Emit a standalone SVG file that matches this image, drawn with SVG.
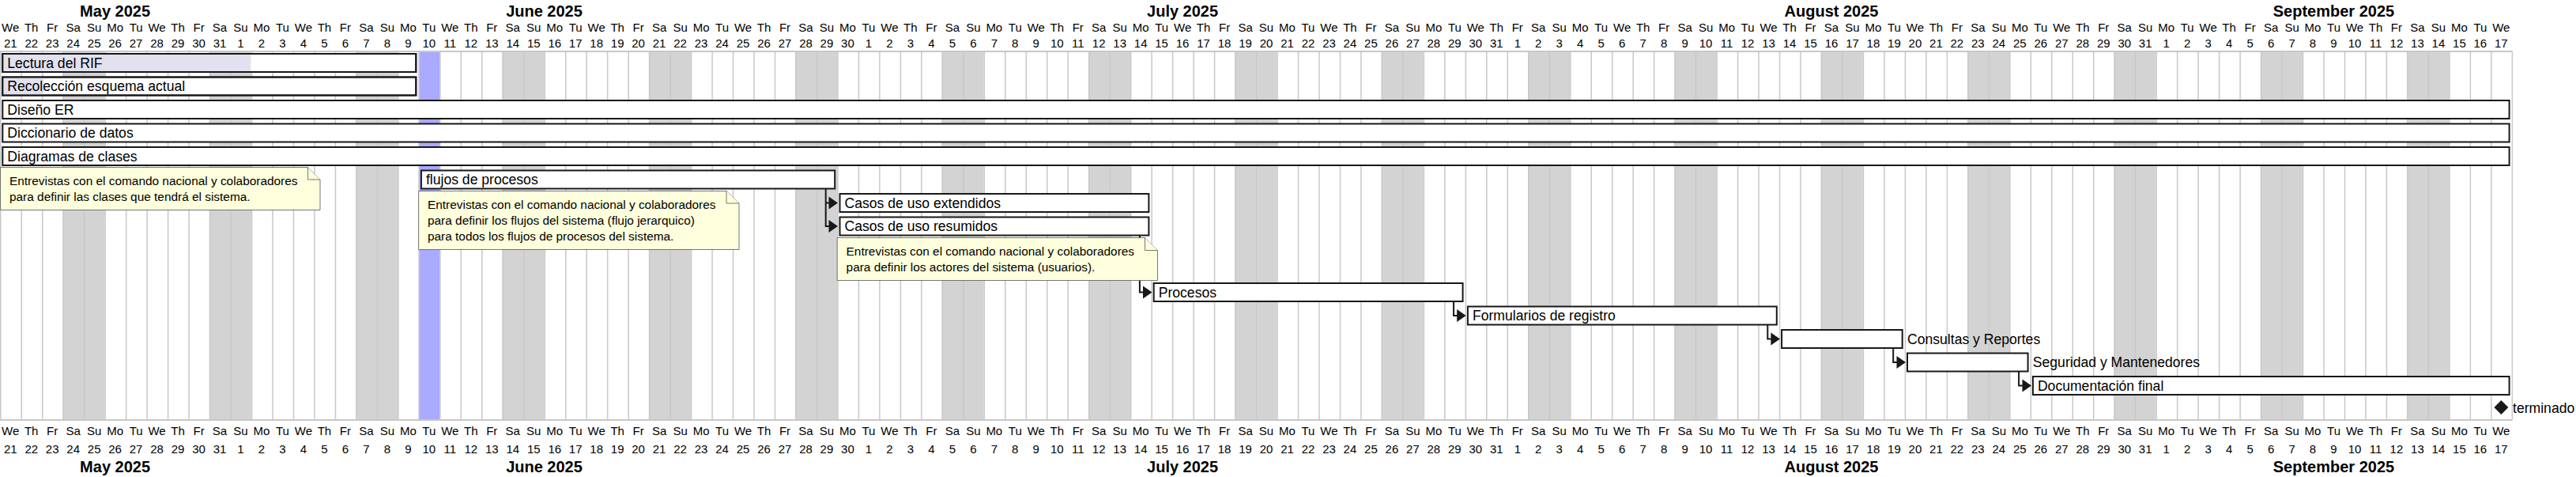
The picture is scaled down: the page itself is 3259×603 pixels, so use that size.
<svg xmlns="http://www.w3.org/2000/svg" width="3259" height="603" viewBox="0 0 3259 603">
<style>
text{font-family:"Liberation Sans",Arial,sans-serif;fill:#000}
.m{font-size:20px;font-weight:bold;text-anchor:middle}
.d{font-size:15px;text-anchor:middle}
.bar{fill:#fff;stroke:#181818;stroke-width:2}
.done{fill:#E1E1F0}
.lbl{font-size:17.6px}
.note{fill:#FEFFDD;stroke:#555;stroke-width:0.8}
.nt{font-size:15.4px}
.link{fill:none;stroke:#181818;stroke-width:2}
.ah{fill:#181818}
</style>
<rect width="3259" height="603" fill="#fff"/>
<g id="grid">
<path fill="#D3D3D3" d="M79.44 65h52.96v466h-52.96z m185.36 0h52.96v466h-52.96z m185.36 0h52.96v466h-52.96z m185.36 0h52.96v466h-52.96z m185.36 0h52.96v466h-52.96z m185.36 0h52.96v466h-52.96z m185.36 0h52.96v466h-52.96z m185.36 0h52.96v466h-52.96z m185.36 0h52.96v466h-52.96z m185.36 0h52.96v466h-52.96z m185.36 0h52.96v466h-52.96z m185.36 0h52.96v466h-52.96z m185.36 0h52.96v466h-52.96z m185.36 0h52.96v466h-52.96z m185.36 0h52.96v466h-52.96z m185.36 0h52.96v466h-52.96z m185.36 0h52.96v466h-52.96z"/>
<rect x="529.6" y="65" width="26.48" height="466" fill="#AAAAFF"/>
<path fill="none" stroke="#C8C8C8" stroke-width="1.5" d="M0.75 65v466m26.48-466v466m26.48-466v466m26.48-466v466m26.48-466v466m26.48-466v466m26.48-466v466m26.48-466v466m26.48-466v466m26.48-466v466m26.48-466v466m26.48-466v466m26.48-466v466m26.48-466v466m26.48-466v466m26.48-466v466m26.48-466v466m26.48-466v466m26.48-466v466m26.48-466v466m26.48-466v466m26.48-466v466m26.48-466v466m26.48-466v466m26.48-466v466m26.48-466v466m26.48-466v466m26.48-466v466m26.48-466v466m26.48-466v466m26.48-466v466m26.48-466v466m26.48-466v466m26.48-466v466m26.48-466v466m26.48-466v466m26.48-466v466m26.48-466v466m26.48-466v466m26.48-466v466m26.48-466v466m26.48-466v466m26.48-466v466m26.48-466v466m26.48-466v466m26.48-466v466m26.48-466v466m26.48-466v466m26.48-466v466m26.48-466v466m26.48-466v466m26.48-466v466m26.48-466v466m26.48-466v466m26.48-466v466m26.48-466v466m26.48-466v466m26.48-466v466m26.48-466v466m26.48-466v466m26.48-466v466m26.48-466v466m26.48-466v466m26.48-466v466m26.48-466v466m26.48-466v466m26.48-466v466m26.48-466v466m26.48-466v466m26.48-466v466m26.48-466v466m26.48-466v466m26.48-466v466m26.48-466v466m26.48-466v466m26.48-466v466m26.48-466v466m26.48-466v466m26.48-466v466m26.48-466v466m26.48-466v466m26.48-466v466m26.48-466v466m26.48-466v466m26.48-466v466m26.48-466v466m26.48-466v466m26.48-466v466m26.48-466v466m26.48-466v466m26.48-466v466m26.48-466v466m26.48-466v466m26.48-466v466m26.48-466v466m26.48-466v466m26.48-466v466m26.48-466v466m26.48-466v466m26.48-466v466m26.48-466v466m26.48-466v466m26.48-466v466m26.48-466v466m26.48-466v466m26.48-466v466m26.48-466v466m26.48-466v466m26.48-466v466m26.48-466v466m26.48-466v466m26.48-466v466m26.48-466v466m26.48-466v466m26.48-466v466m26.48-466v466m26.48-466v466m26.48-466v466m26.48-466v466m26.48-466v466m26.48-466v466"/>
<path fill="none" stroke="#C8C8C8" stroke-width="2" d="M0 65H3178.5M0 531H3178.5"/>
</g>
<g id="header-top">
<text class="m" y="21"><tspan x="145.6">May 2025</tspan><tspan x="688.5">June 2025</tspan><tspan x="1496.1">July 2025</tspan><tspan x="2317">August 2025</tspan><tspan x="2952.5">September 2025</tspan></text>
<text class="d" y="39.5"><tspan x="13.24">We</tspan><tspan x="39.72">Th</tspan><tspan x="66.2">Fr</tspan><tspan x="92.68">Sa</tspan><tspan x="119.16">Su</tspan><tspan x="145.64">Mo</tspan><tspan x="172.12">Tu</tspan><tspan x="198.6">We</tspan><tspan x="225.08">Th</tspan><tspan x="251.56">Fr</tspan><tspan x="278.04">Sa</tspan><tspan x="304.52">Su</tspan><tspan x="331">Mo</tspan><tspan x="357.48">Tu</tspan><tspan x="383.96">We</tspan><tspan x="410.44">Th</tspan><tspan x="436.92">Fr</tspan><tspan x="463.4">Sa</tspan><tspan x="489.88">Su</tspan><tspan x="516.36">Mo</tspan><tspan x="542.84">Tu</tspan><tspan x="569.32">We</tspan><tspan x="595.8">Th</tspan><tspan x="622.28">Fr</tspan><tspan x="648.76">Sa</tspan><tspan x="675.24">Su</tspan><tspan x="701.72">Mo</tspan><tspan x="728.2">Tu</tspan><tspan x="754.68">We</tspan><tspan x="781.16">Th</tspan><tspan x="807.64">Fr</tspan><tspan x="834.12">Sa</tspan><tspan x="860.6">Su</tspan><tspan x="887.08">Mo</tspan><tspan x="913.56">Tu</tspan><tspan x="940.04">We</tspan><tspan x="966.52">Th</tspan><tspan x="993">Fr</tspan><tspan x="1019.48">Sa</tspan><tspan x="1045.96">Su</tspan><tspan x="1072.44">Mo</tspan><tspan x="1098.92">Tu</tspan><tspan x="1125.4">We</tspan><tspan x="1151.88">Th</tspan><tspan x="1178.36">Fr</tspan><tspan x="1204.84">Sa</tspan><tspan x="1231.32">Su</tspan><tspan x="1257.8">Mo</tspan><tspan x="1284.28">Tu</tspan><tspan x="1310.76">We</tspan><tspan x="1337.24">Th</tspan><tspan x="1363.72">Fr</tspan><tspan x="1390.2">Sa</tspan><tspan x="1416.68">Su</tspan><tspan x="1443.16">Mo</tspan><tspan x="1469.64">Tu</tspan><tspan x="1496.12">We</tspan><tspan x="1522.6">Th</tspan><tspan x="1549.08">Fr</tspan><tspan x="1575.56">Sa</tspan><tspan x="1602.04">Su</tspan><tspan x="1628.52">Mo</tspan><tspan x="1655">Tu</tspan><tspan x="1681.48">We</tspan><tspan x="1707.96">Th</tspan><tspan x="1734.44">Fr</tspan><tspan x="1760.92">Sa</tspan><tspan x="1787.4">Su</tspan><tspan x="1813.88">Mo</tspan><tspan x="1840.36">Tu</tspan><tspan x="1866.84">We</tspan><tspan x="1893.32">Th</tspan><tspan x="1919.8">Fr</tspan><tspan x="1946.28">Sa</tspan><tspan x="1972.76">Su</tspan><tspan x="1999.24">Mo</tspan><tspan x="2025.72">Tu</tspan><tspan x="2052.2">We</tspan><tspan x="2078.68">Th</tspan><tspan x="2105.16">Fr</tspan><tspan x="2131.64">Sa</tspan><tspan x="2158.12">Su</tspan><tspan x="2184.6">Mo</tspan><tspan x="2211.08">Tu</tspan><tspan x="2237.56">We</tspan><tspan x="2264.04">Th</tspan><tspan x="2290.52">Fr</tspan><tspan x="2317">Sa</tspan><tspan x="2343.48">Su</tspan><tspan x="2369.96">Mo</tspan><tspan x="2396.44">Tu</tspan><tspan x="2422.92">We</tspan><tspan x="2449.4">Th</tspan><tspan x="2475.88">Fr</tspan><tspan x="2502.36">Sa</tspan><tspan x="2528.84">Su</tspan><tspan x="2555.32">Mo</tspan><tspan x="2581.8">Tu</tspan><tspan x="2608.28">We</tspan><tspan x="2634.76">Th</tspan><tspan x="2661.24">Fr</tspan><tspan x="2687.72">Sa</tspan><tspan x="2714.2">Su</tspan><tspan x="2740.68">Mo</tspan><tspan x="2767.16">Tu</tspan><tspan x="2793.64">We</tspan><tspan x="2820.12">Th</tspan><tspan x="2846.6">Fr</tspan><tspan x="2873.08">Sa</tspan><tspan x="2899.56">Su</tspan><tspan x="2926.04">Mo</tspan><tspan x="2952.52">Tu</tspan><tspan x="2979">We</tspan><tspan x="3005.48">Th</tspan><tspan x="3031.96">Fr</tspan><tspan x="3058.44">Sa</tspan><tspan x="3084.92">Su</tspan><tspan x="3111.4">Mo</tspan><tspan x="3137.88">Tu</tspan><tspan x="3164.36">We</tspan></text>
<text class="d" y="59.5"><tspan x="13.24">21</tspan><tspan x="39.72">22</tspan><tspan x="66.2">23</tspan><tspan x="92.68">24</tspan><tspan x="119.16">25</tspan><tspan x="145.64">26</tspan><tspan x="172.12">27</tspan><tspan x="198.6">28</tspan><tspan x="225.08">29</tspan><tspan x="251.56">30</tspan><tspan x="278.04">31</tspan><tspan x="304.52">1</tspan><tspan x="331">2</tspan><tspan x="357.48">3</tspan><tspan x="383.96">4</tspan><tspan x="410.44">5</tspan><tspan x="436.92">6</tspan><tspan x="463.4">7</tspan><tspan x="489.88">8</tspan><tspan x="516.36">9</tspan><tspan x="542.84">10</tspan><tspan x="569.32">11</tspan><tspan x="595.8">12</tspan><tspan x="622.28">13</tspan><tspan x="648.76">14</tspan><tspan x="675.24">15</tspan><tspan x="701.72">16</tspan><tspan x="728.2">17</tspan><tspan x="754.68">18</tspan><tspan x="781.16">19</tspan><tspan x="807.64">20</tspan><tspan x="834.12">21</tspan><tspan x="860.6">22</tspan><tspan x="887.08">23</tspan><tspan x="913.56">24</tspan><tspan x="940.04">25</tspan><tspan x="966.52">26</tspan><tspan x="993">27</tspan><tspan x="1019.48">28</tspan><tspan x="1045.96">29</tspan><tspan x="1072.44">30</tspan><tspan x="1098.92">1</tspan><tspan x="1125.4">2</tspan><tspan x="1151.88">3</tspan><tspan x="1178.36">4</tspan><tspan x="1204.84">5</tspan><tspan x="1231.32">6</tspan><tspan x="1257.8">7</tspan><tspan x="1284.28">8</tspan><tspan x="1310.76">9</tspan><tspan x="1337.24">10</tspan><tspan x="1363.72">11</tspan><tspan x="1390.2">12</tspan><tspan x="1416.68">13</tspan><tspan x="1443.16">14</tspan><tspan x="1469.64">15</tspan><tspan x="1496.12">16</tspan><tspan x="1522.6">17</tspan><tspan x="1549.08">18</tspan><tspan x="1575.56">19</tspan><tspan x="1602.04">20</tspan><tspan x="1628.52">21</tspan><tspan x="1655">22</tspan><tspan x="1681.48">23</tspan><tspan x="1707.96">24</tspan><tspan x="1734.44">25</tspan><tspan x="1760.92">26</tspan><tspan x="1787.4">27</tspan><tspan x="1813.88">28</tspan><tspan x="1840.36">29</tspan><tspan x="1866.84">30</tspan><tspan x="1893.32">31</tspan><tspan x="1919.8">1</tspan><tspan x="1946.28">2</tspan><tspan x="1972.76">3</tspan><tspan x="1999.24">4</tspan><tspan x="2025.72">5</tspan><tspan x="2052.2">6</tspan><tspan x="2078.68">7</tspan><tspan x="2105.16">8</tspan><tspan x="2131.64">9</tspan><tspan x="2158.12">10</tspan><tspan x="2184.6">11</tspan><tspan x="2211.08">12</tspan><tspan x="2237.56">13</tspan><tspan x="2264.04">14</tspan><tspan x="2290.52">15</tspan><tspan x="2317">16</tspan><tspan x="2343.48">17</tspan><tspan x="2369.96">18</tspan><tspan x="2396.44">19</tspan><tspan x="2422.92">20</tspan><tspan x="2449.4">21</tspan><tspan x="2475.88">22</tspan><tspan x="2502.36">23</tspan><tspan x="2528.84">24</tspan><tspan x="2555.32">25</tspan><tspan x="2581.8">26</tspan><tspan x="2608.28">27</tspan><tspan x="2634.76">28</tspan><tspan x="2661.24">29</tspan><tspan x="2687.72">30</tspan><tspan x="2714.2">31</tspan><tspan x="2740.68">1</tspan><tspan x="2767.16">2</tspan><tspan x="2793.64">3</tspan><tspan x="2820.12">4</tspan><tspan x="2846.6">5</tspan><tspan x="2873.08">6</tspan><tspan x="2899.56">7</tspan><tspan x="2926.04">8</tspan><tspan x="2952.52">9</tspan><tspan x="2979">10</tspan><tspan x="3005.48">11</tspan><tspan x="3031.96">12</tspan><tspan x="3058.44">13</tspan><tspan x="3084.92">14</tspan><tspan x="3111.4">15</tspan><tspan x="3137.88">16</tspan><tspan x="3164.36">17</tspan></text>
</g>
<g id="header-bottom">
<text class="d" y="550"><tspan x="13.24">We</tspan><tspan x="39.72">Th</tspan><tspan x="66.2">Fr</tspan><tspan x="92.68">Sa</tspan><tspan x="119.16">Su</tspan><tspan x="145.64">Mo</tspan><tspan x="172.12">Tu</tspan><tspan x="198.6">We</tspan><tspan x="225.08">Th</tspan><tspan x="251.56">Fr</tspan><tspan x="278.04">Sa</tspan><tspan x="304.52">Su</tspan><tspan x="331">Mo</tspan><tspan x="357.48">Tu</tspan><tspan x="383.96">We</tspan><tspan x="410.44">Th</tspan><tspan x="436.92">Fr</tspan><tspan x="463.4">Sa</tspan><tspan x="489.88">Su</tspan><tspan x="516.36">Mo</tspan><tspan x="542.84">Tu</tspan><tspan x="569.32">We</tspan><tspan x="595.8">Th</tspan><tspan x="622.28">Fr</tspan><tspan x="648.76">Sa</tspan><tspan x="675.24">Su</tspan><tspan x="701.72">Mo</tspan><tspan x="728.2">Tu</tspan><tspan x="754.68">We</tspan><tspan x="781.16">Th</tspan><tspan x="807.64">Fr</tspan><tspan x="834.12">Sa</tspan><tspan x="860.6">Su</tspan><tspan x="887.08">Mo</tspan><tspan x="913.56">Tu</tspan><tspan x="940.04">We</tspan><tspan x="966.52">Th</tspan><tspan x="993">Fr</tspan><tspan x="1019.48">Sa</tspan><tspan x="1045.96">Su</tspan><tspan x="1072.44">Mo</tspan><tspan x="1098.92">Tu</tspan><tspan x="1125.4">We</tspan><tspan x="1151.88">Th</tspan><tspan x="1178.36">Fr</tspan><tspan x="1204.84">Sa</tspan><tspan x="1231.32">Su</tspan><tspan x="1257.8">Mo</tspan><tspan x="1284.28">Tu</tspan><tspan x="1310.76">We</tspan><tspan x="1337.24">Th</tspan><tspan x="1363.72">Fr</tspan><tspan x="1390.2">Sa</tspan><tspan x="1416.68">Su</tspan><tspan x="1443.16">Mo</tspan><tspan x="1469.64">Tu</tspan><tspan x="1496.12">We</tspan><tspan x="1522.6">Th</tspan><tspan x="1549.08">Fr</tspan><tspan x="1575.56">Sa</tspan><tspan x="1602.04">Su</tspan><tspan x="1628.52">Mo</tspan><tspan x="1655">Tu</tspan><tspan x="1681.48">We</tspan><tspan x="1707.96">Th</tspan><tspan x="1734.44">Fr</tspan><tspan x="1760.92">Sa</tspan><tspan x="1787.4">Su</tspan><tspan x="1813.88">Mo</tspan><tspan x="1840.36">Tu</tspan><tspan x="1866.84">We</tspan><tspan x="1893.32">Th</tspan><tspan x="1919.8">Fr</tspan><tspan x="1946.28">Sa</tspan><tspan x="1972.76">Su</tspan><tspan x="1999.24">Mo</tspan><tspan x="2025.72">Tu</tspan><tspan x="2052.2">We</tspan><tspan x="2078.68">Th</tspan><tspan x="2105.16">Fr</tspan><tspan x="2131.64">Sa</tspan><tspan x="2158.12">Su</tspan><tspan x="2184.6">Mo</tspan><tspan x="2211.08">Tu</tspan><tspan x="2237.56">We</tspan><tspan x="2264.04">Th</tspan><tspan x="2290.52">Fr</tspan><tspan x="2317">Sa</tspan><tspan x="2343.48">Su</tspan><tspan x="2369.96">Mo</tspan><tspan x="2396.44">Tu</tspan><tspan x="2422.92">We</tspan><tspan x="2449.4">Th</tspan><tspan x="2475.88">Fr</tspan><tspan x="2502.36">Sa</tspan><tspan x="2528.84">Su</tspan><tspan x="2555.32">Mo</tspan><tspan x="2581.8">Tu</tspan><tspan x="2608.28">We</tspan><tspan x="2634.76">Th</tspan><tspan x="2661.24">Fr</tspan><tspan x="2687.72">Sa</tspan><tspan x="2714.2">Su</tspan><tspan x="2740.68">Mo</tspan><tspan x="2767.16">Tu</tspan><tspan x="2793.64">We</tspan><tspan x="2820.12">Th</tspan><tspan x="2846.6">Fr</tspan><tspan x="2873.08">Sa</tspan><tspan x="2899.56">Su</tspan><tspan x="2926.04">Mo</tspan><tspan x="2952.52">Tu</tspan><tspan x="2979">We</tspan><tspan x="3005.48">Th</tspan><tspan x="3031.96">Fr</tspan><tspan x="3058.44">Sa</tspan><tspan x="3084.92">Su</tspan><tspan x="3111.4">Mo</tspan><tspan x="3137.88">Tu</tspan><tspan x="3164.36">We</tspan></text>
<text class="d" y="573"><tspan x="13.24">21</tspan><tspan x="39.72">22</tspan><tspan x="66.2">23</tspan><tspan x="92.68">24</tspan><tspan x="119.16">25</tspan><tspan x="145.64">26</tspan><tspan x="172.12">27</tspan><tspan x="198.6">28</tspan><tspan x="225.08">29</tspan><tspan x="251.56">30</tspan><tspan x="278.04">31</tspan><tspan x="304.52">1</tspan><tspan x="331">2</tspan><tspan x="357.48">3</tspan><tspan x="383.96">4</tspan><tspan x="410.44">5</tspan><tspan x="436.92">6</tspan><tspan x="463.4">7</tspan><tspan x="489.88">8</tspan><tspan x="516.36">9</tspan><tspan x="542.84">10</tspan><tspan x="569.32">11</tspan><tspan x="595.8">12</tspan><tspan x="622.28">13</tspan><tspan x="648.76">14</tspan><tspan x="675.24">15</tspan><tspan x="701.72">16</tspan><tspan x="728.2">17</tspan><tspan x="754.68">18</tspan><tspan x="781.16">19</tspan><tspan x="807.64">20</tspan><tspan x="834.12">21</tspan><tspan x="860.6">22</tspan><tspan x="887.08">23</tspan><tspan x="913.56">24</tspan><tspan x="940.04">25</tspan><tspan x="966.52">26</tspan><tspan x="993">27</tspan><tspan x="1019.48">28</tspan><tspan x="1045.96">29</tspan><tspan x="1072.44">30</tspan><tspan x="1098.92">1</tspan><tspan x="1125.4">2</tspan><tspan x="1151.88">3</tspan><tspan x="1178.36">4</tspan><tspan x="1204.84">5</tspan><tspan x="1231.32">6</tspan><tspan x="1257.8">7</tspan><tspan x="1284.28">8</tspan><tspan x="1310.76">9</tspan><tspan x="1337.24">10</tspan><tspan x="1363.72">11</tspan><tspan x="1390.2">12</tspan><tspan x="1416.68">13</tspan><tspan x="1443.16">14</tspan><tspan x="1469.64">15</tspan><tspan x="1496.12">16</tspan><tspan x="1522.6">17</tspan><tspan x="1549.08">18</tspan><tspan x="1575.56">19</tspan><tspan x="1602.04">20</tspan><tspan x="1628.52">21</tspan><tspan x="1655">22</tspan><tspan x="1681.48">23</tspan><tspan x="1707.96">24</tspan><tspan x="1734.44">25</tspan><tspan x="1760.92">26</tspan><tspan x="1787.4">27</tspan><tspan x="1813.88">28</tspan><tspan x="1840.36">29</tspan><tspan x="1866.84">30</tspan><tspan x="1893.32">31</tspan><tspan x="1919.8">1</tspan><tspan x="1946.28">2</tspan><tspan x="1972.76">3</tspan><tspan x="1999.24">4</tspan><tspan x="2025.72">5</tspan><tspan x="2052.2">6</tspan><tspan x="2078.68">7</tspan><tspan x="2105.16">8</tspan><tspan x="2131.64">9</tspan><tspan x="2158.12">10</tspan><tspan x="2184.6">11</tspan><tspan x="2211.08">12</tspan><tspan x="2237.56">13</tspan><tspan x="2264.04">14</tspan><tspan x="2290.52">15</tspan><tspan x="2317">16</tspan><tspan x="2343.48">17</tspan><tspan x="2369.96">18</tspan><tspan x="2396.44">19</tspan><tspan x="2422.92">20</tspan><tspan x="2449.4">21</tspan><tspan x="2475.88">22</tspan><tspan x="2502.36">23</tspan><tspan x="2528.84">24</tspan><tspan x="2555.32">25</tspan><tspan x="2581.8">26</tspan><tspan x="2608.28">27</tspan><tspan x="2634.76">28</tspan><tspan x="2661.24">29</tspan><tspan x="2687.72">30</tspan><tspan x="2714.2">31</tspan><tspan x="2740.68">1</tspan><tspan x="2767.16">2</tspan><tspan x="2793.64">3</tspan><tspan x="2820.12">4</tspan><tspan x="2846.6">5</tspan><tspan x="2873.08">6</tspan><tspan x="2899.56">7</tspan><tspan x="2926.04">8</tspan><tspan x="2952.52">9</tspan><tspan x="2979">10</tspan><tspan x="3005.48">11</tspan><tspan x="3031.96">12</tspan><tspan x="3058.44">13</tspan><tspan x="3084.92">14</tspan><tspan x="3111.4">15</tspan><tspan x="3137.88">16</tspan><tspan x="3164.36">17</tspan></text>
<text class="m" y="597"><tspan x="145.6">May 2025</tspan><tspan x="688.5">June 2025</tspan><tspan x="1496.1">July 2025</tspan><tspan x="2317">August 2025</tspan><tspan x="2952.5">September 2025</tspan></text>
</g>
<g id="connectors">
<path class="link" d="M1044.7 237.5V256.5H1050M1044.7 237.5V286H1050"/>
<polygon class="ah" points="1048.5,248.5 1060,256.5 1048.5,264.5"/>
<polygon class="ah" points="1048.5,278 1060,286 1048.5,294"/>
<path class="link" d="M1441.9 296.5V369.5H1447"/>
<polygon class="ah" points="1446,361.5 1457.5,369.5 1446,377.5"/>
<path class="link" d="M1839.1 380V399H1844"/>
<polygon class="ah" points="1843.2,391 1854.7,399 1843.2,407"/>
<path class="link" d="M2236.3 409.5V428.5H2241"/>
<polygon class="ah" points="2240.4,420.5 2251.9,428.5 2240.4,436.5"/>
<path class="link" d="M2395.2 439V458H2400"/>
<polygon class="ah" points="2399.5,450 2411,458 2399.5,466"/>
<path class="link" d="M2554.1 468.5V487.5H2559"/>
<polygon class="ah" points="2558.5,479.5 2570,487.5 2558.5,495.5"/>
</g>
<g id="task-lectura"><rect class="bar" x="3.3" y="68" width="523" height="23"/><rect class="done" x="4.3" y="69" width="313" height="21"/><rect x="3.3" y="68" width="523" height="23" fill="none" stroke="#181818" stroke-width="2"/><text class="lbl" x="9.3" y="85.5">Lectura del RIF</text></g>
<g id="task-recoleccion"><rect class="bar" x="3.3" y="97.5" width="523" height="23"/><rect class="done" x="4.3" y="98.5" width="51.3" height="21"/><rect x="3.3" y="97.5" width="523" height="23" fill="none" stroke="#181818" stroke-width="2"/><text class="lbl" x="9.3" y="115">Recolección esquema actual</text></g>
<g id="task-diseno"><rect class="bar" x="3.3" y="127" width="3171.3" height="23"/><text class="lbl" x="9.3" y="144.5">Diseño ER</text></g>
<g id="task-diccionario"><rect class="bar" x="3.3" y="156.5" width="3171.3" height="23"/><text class="lbl" x="9.3" y="174">Diccionario de datos</text></g>
<g id="task-diagramas"><rect class="bar" x="3.3" y="186" width="3171.3" height="23"/><text class="lbl" x="9.3" y="203.5">Diagramas de clases</text></g>
<g id="task-flujos"><rect class="bar" x="532.9" y="215.5" width="523.3" height="23"/><text class="lbl" x="538.9" y="233">flujos de procesos</text></g>
<g id="task-casos-ext"><rect class="bar" x="1062.5" y="245" width="390.9" height="23"/><text class="lbl" x="1068.5" y="262.5">Casos de uso extendidos</text></g>
<g id="task-casos-res"><rect class="bar" x="1062.5" y="274.5" width="390.9" height="23"/><text class="lbl" x="1068.5" y="292">Casos de uso resumidos</text></g>
<g id="task-procesos"><rect class="bar" x="1459.7" y="358" width="390.9" height="23"/><text class="lbl" x="1465.7" y="375.5">Procesos</text></g>
<g id="task-formularios"><rect class="bar" x="1856.9" y="387.5" width="390.9" height="23"/><text class="lbl" x="1862.9" y="405">Formularios de registro</text></g>
<g id="task-consultas"><rect class="bar" x="2254.1" y="417" width="152.6" height="23"/><text class="lbl" x="2413" y="434.5">Consultas y Reportes</text></g>
<g id="task-seguridad"><rect class="bar" x="2413" y="446.5" width="152.6" height="23"/><text class="lbl" x="2571.8" y="464">Seguridad y Mantenedores</text></g>
<g id="task-documentacion"><rect class="bar" x="2571.9" y="476" width="602.7" height="23"/><text class="lbl" x="2577.9" y="493.5">Documentación final</text></g>
<g id="milestone-terminado"><polygon class="ah" points="3164.4,506 3173.4,515 3164.4,524 3155.4,515"/><text class="lbl" x="3179" y="521.5">terminado</text></g>
<g id="note-clases"><path class="note" d="M0.5 211.5H389.5L405 227V265.5H0.5Z"/><path class="note" d="M389.5 211.5V227H405"/><text class="nt" x="12" y="233.5">Entrevistas con el comando nacional y colaboradores</text><text class="nt" x="12" y="253.5">para definir las clases que tendrá el sistema.</text></g>
<g id="note-flujos"><path class="note" d="M529.6 241.5H919L935 257V315.5H529.6Z"/><path class="note" d="M919 241.5V257H935"/><text class="nt" x="541" y="263.5">Entrevistas con el comando nacional y colaboradores</text><text class="nt" x="541" y="283.5">para definir los flujos del sistema (flujo jerarquico)</text><text class="nt" x="541" y="303.5">para todos los flujos de procesos del sistema.</text></g>
<g id="note-actores"><path class="note" d="M1059.2 300.5H1448.5L1464.5 316.5V354.5H1059.2Z"/><path class="note" d="M1448.5 300.5V316.5H1464.5"/><text class="nt" x="1070.6" y="322.5">Entrevistas con el comando nacional y colaboradores</text><text class="nt" x="1070.6" y="342.5">para definir los actores del sistema (usuarios).</text></g>
</svg>
